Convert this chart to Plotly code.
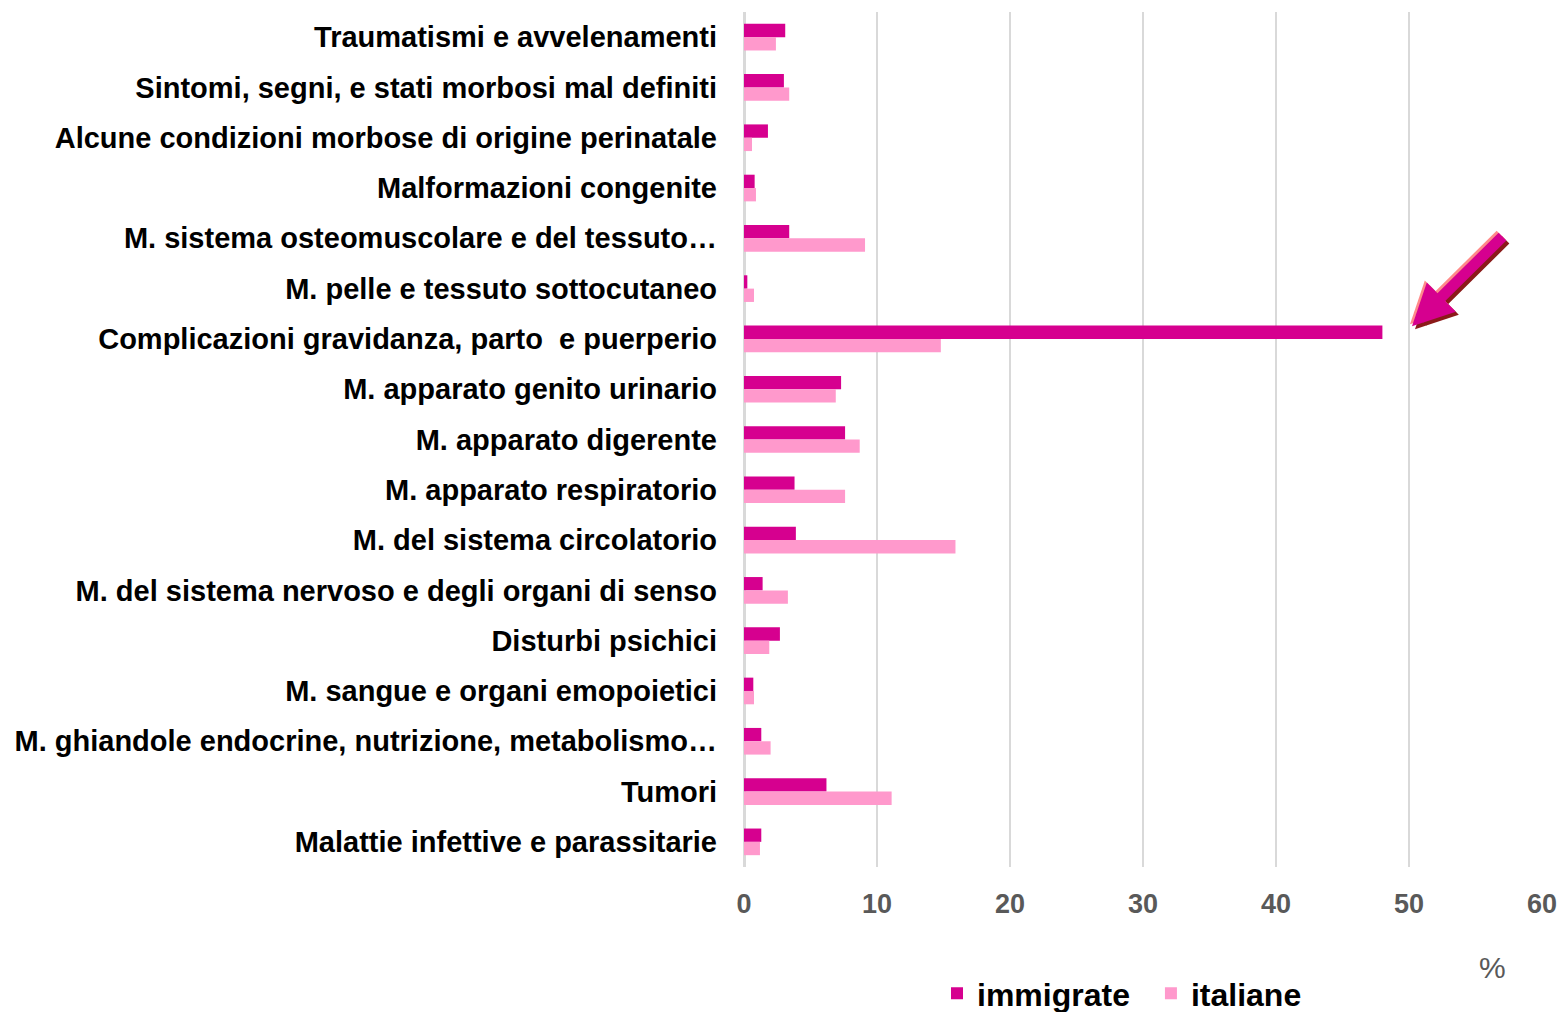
import plotly.graph_objects as go

categories = [
    "Traumatismi e avvelenamenti",
    "Sintomi, segni, e stati morbosi mal definiti",
    "Alcune condizioni morbose di origine perinatale",
    "Malformazioni congenite",
    "M. sistema osteomuscolare e del tessuto…",
    "M. pelle e tessuto sottocutaneo",
    "Complicazioni gravidanza, parto  e puerperio",
    "M. apparato genito urinario",
    "M. apparato digerente",
    "M. apparato respiratorio",
    "M. del sistema circolatorio",
    "M. del sistema nervoso e degli organi di senso",
    "Disturbi psichici",
    "M. sangue e organi emopoietici",
    "M. ghiandole endocrine, nutrizione, metabolismo…",
    "Tumori",
    "Malattie infettive e parassitarie",
]
immigrate = [3.1, 3.0, 1.8, 0.8, 3.4, 0.25, 48.0, 7.3, 7.6, 3.8, 3.9,
             1.4, 2.7, 0.7, 1.3, 6.2, 1.3]
italiane = [2.4, 3.4, 0.6, 0.9, 9.1, 0.75, 14.8, 6.9, 8.7, 7.6, 15.9,
            3.3, 1.9, 0.75, 2.0, 11.1, 1.2]
x_ticks = [0, 10, 20, 30, 40, 50, 60]

fig = go.Figure()
fig.add_trace(go.Bar(y=categories, x=immigrate, name="immigrate\u2002", orientation="h",
                     marker=dict(color="#D6008F", line=dict(width=0))))
fig.add_trace(go.Bar(y=categories, x=italiane, name="italiane", orientation="h",
                     marker=dict(color="#FF99CC", line=dict(width=0))))

W, H = 1562, 1012
L, R, T, B = 744, 20, 11.5, 144.5
PW, PH = W - L - R, H - T - B

fig.update_layout(
    width=W, height=H,
    margin=dict(l=L, r=R, t=T, b=B, autoexpand=False),
    barmode="group", bargap=0.47, bargroupgap=0,
    plot_bgcolor="white", paper_bgcolor="white",
    font=dict(family="Liberation Sans, Arial, sans-serif"),
    legend=dict(orientation="h", x=(1122 - L) / PW, xanchor="center",
                y=(H - B - 994) / PH, yanchor="middle",
                font=dict(size=32, color="black", family="Liberation Sans, Arial, sans-serif",
                          weight="bold"),
                itemwidth=30, tracegroupgap=0),
)
fig.update_xaxes(range=[0, 60], tickvals=x_ticks, showgrid=True, gridcolor="#D9D9D9",
                 gridwidth=2, zeroline=True, zerolinecolor="#D9D9D9", zerolinewidth=3,
                 showline=False, ticks="", ticklabelstandoff=18,
                 tickfont=dict(size=27, color="#595959", weight="bold"))
fig.update_yaxes(autorange="reversed", showgrid=False, ticks="", showline=False,
                 ticklabelstandoff=26,
                 tickfont=dict(size=29, color="black", weight="bold"))

# "%" axis unit
fig.add_annotation(text="%", xref="paper", yref="paper",
                   x=(1492 - L) / PW, y=(H - B - 968) / PH,
                   showarrow=False, font=dict(size=30, color="#595959"),
                   xanchor="center", yanchor="middle")

# Highlight arrow pointing at the long bar
hx = (1412 - L) / PW
hy = (H - B - 326) / PH
for dx, dy, col in [(3, 3, "#8B1A1A"), (-2, -2, "#FF8A8A"), (0, 0, "#D6008F")]:
    fig.add_annotation(x=hx, y=hy, xref="paper", yref="paper",
                       xshift=dx, yshift=-dy,
                       ax=92, ay=-91, axref="pixel", ayref="pixel",
                       showarrow=True, arrowhead=2, arrowsize=0.75, arrowwidth=11,
                       arrowcolor=col, text="")

fig.write_html("out.html", config={"displayModeBar": False},
               post_script="document.body.style.margin='0';document.body.style.overflow='hidden';")
